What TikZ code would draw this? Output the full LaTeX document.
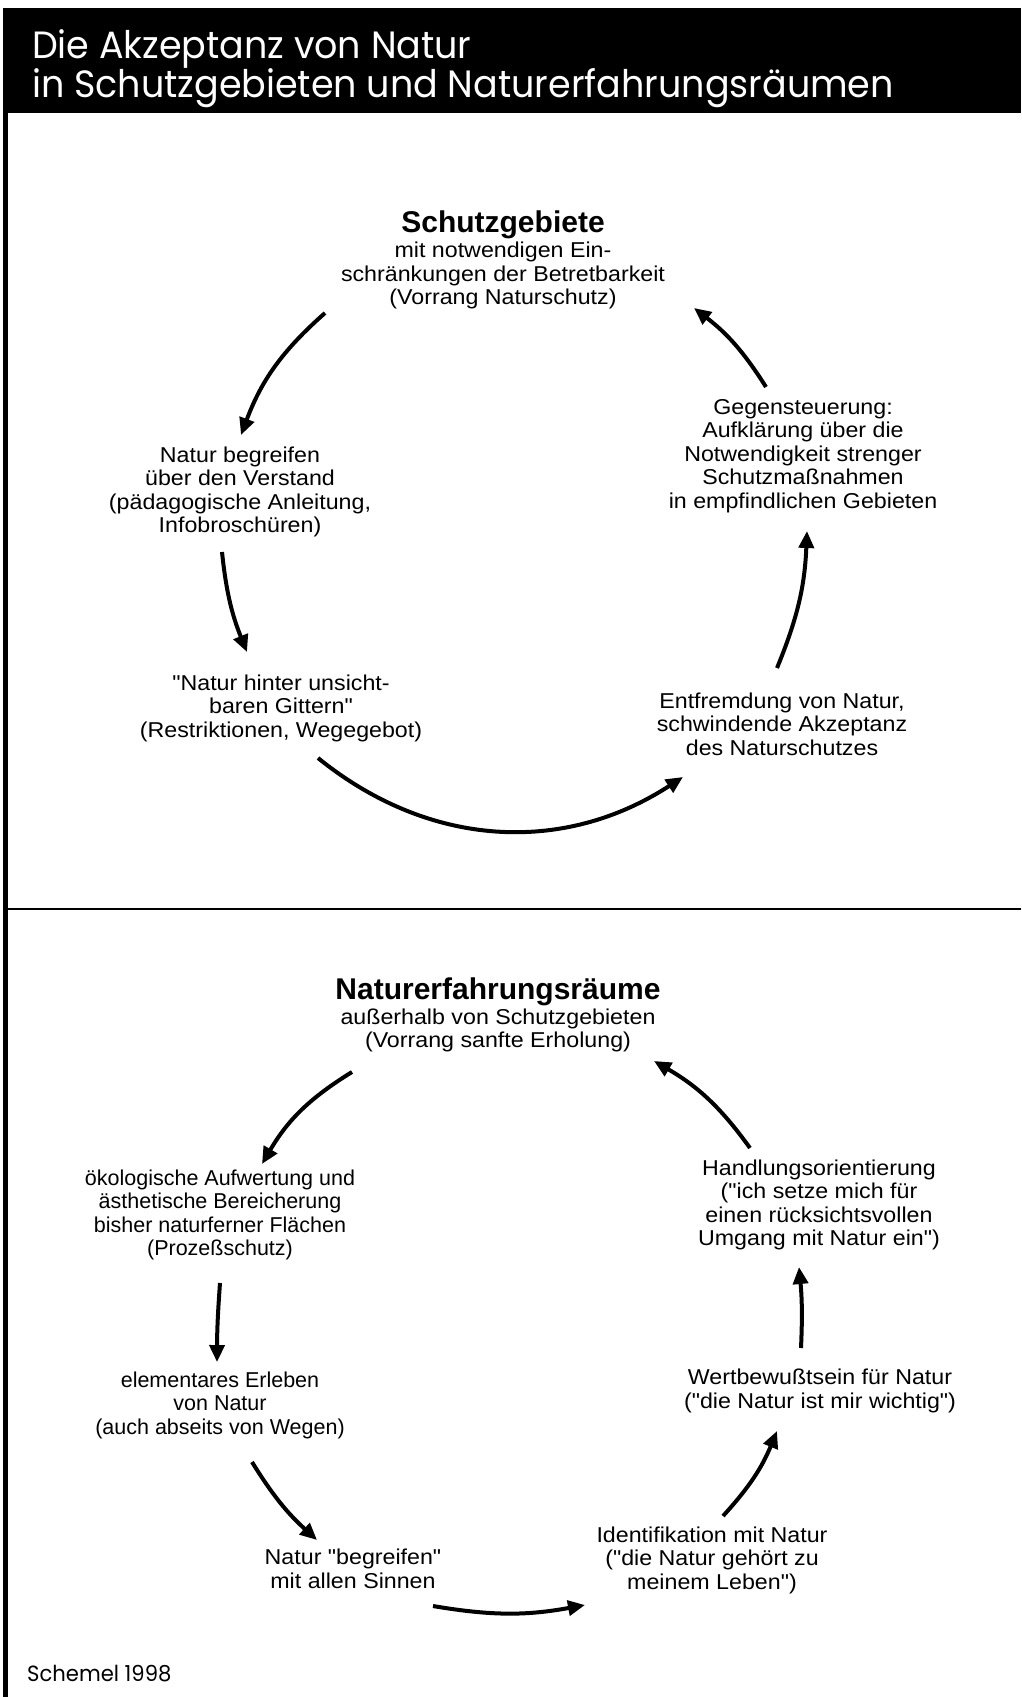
\documentclass[tikz,border=0pt]{standalone}
\usepackage{fontspec}
\setmainfont{Liberation Sans}[Ligatures=TeXOff,FakeStretch=1.08]
\newfontfamily\plainfont{Liberation Sans}[Ligatures=TeXOff]
\newfontfamily\titlefont{Poppins}[FakeStretch=0.96]
\usetikzlibrary{arrows.meta}
\newcommand\headfont{\plainfont\bfseries\fontsize{30}{30}\selectfont}
\begin{document}
\begin{tikzpicture}[x=1pt,y=-1pt,
  txt/.style={align=center,inner sep=0pt,font=\fontsize{21.5}{23.5}\selectfont},
  narrowtxt/.style={txt,font=\plainfont\fontsize{21.5}{23.5}\selectfont},
  arr/.style={line width=4pt,-{Triangle[length=17pt,width=15pt]}}]
\useasboundingbox (0,0) rectangle (1021,1697);
\fill[white] (0,0) rectangle (1021,1697);
\fill[black] (3,8) rectangle (1021,113);
\draw[line width=5pt] (5.5,8) -- (5.5,1697);
\draw[line width=2pt] (5,909) -- (1021,909);
\node[anchor=west,text=white,align=left,inner sep=0pt,
  font=\titlefont\fontsize{38}{39}\selectfont] (title) at (32,69)
  {Die Akzeptanz von Natur\\in Schutzgebieten und Naturerfahrungsräumen};
\node[anchor=west,inner sep=0pt,font=\titlefont\fontsize{22}{22}\selectfont] (credit) at (27,1674) {Schemel 1998};
% top cycle
\node[txt] (A) at (503,260) {{\headfont Schutzgebiete}\\[1.5pt]mit notwendigen Ein-\\schränkungen der Betretbarkeit\\(Vorrang Naturschutz)};
\node[txt] (B) at (240,492) {Natur begreifen\\über den Verstand\\(pädagogische Anleitung,\\Infobroschüren)};
\node[txt] (C) at (803,456) {Gegensteuerung:\\Aufklärung über die\\Notwendigkeit strenger\\Schutzmaßnahmen\\in empfindlichen Gebieten};
\node[txt] (D) at (281,708) {"Natur hinter unsicht-\\baren Gittern"\\(Restriktionen, Wegegebot)};
\node[txt] (E) at (782,724) {Entfremdung von Natur,\\schwindende Akzeptanz\\des Naturschutzes};
\draw[arr] ([shift={(-178,53)}]A.center) to[bend right=14] ([shift={(1,-57)}]B.center);
\draw[arr] ([shift={(-18,60)}]B.center) to[bend right=8] ([shift={(-34,-56)}]D.center);
\draw[arr] ([shift={(37,50)}]D.center) to[bend right=36] ([shift={(-99,53)}]E.center);
\draw[arr] ([shift={(-5,-56)}]E.center) to[bend right=10] ([shift={(4,75)}]C.center);
\draw[arr] ([shift={(-37,-69)}]C.center) to[bend right=10] ([shift={(191,48)}]A.center);
% bottom cycle
\node[txt] (F) at (498,1015) {{\headfont Naturerfahrungsräume}\\[1.5pt]außerhalb von Schutzgebieten\\(Vorrang sanfte Erholung)};
\node[narrowtxt] (G) at (220,1215) {ökologische Aufwertung und\\ästhetische Bereicherung\\bisher naturferner Flächen\\(Prozeßschutz)};
\node[narrowtxt] (H) at (220,1405) {elementares Erleben\\von Natur\\(auch abseits von Wegen)};
\node[txt] (I) at (353,1569) {Natur "begreifen"\\mit allen Sinnen};
\node[txt] (J) at (712,1560) {Identifikation mit Natur\\("die Natur gehört zu\\meinem Leben")};
\node[txt] (K) at (820,1391) {Wertbewußtsein für Natur\\("die Natur ist mir wichtig")};
\node[txt] (L) at (819,1205) {Handlungsorientierung\\("ich setze mich für\\einen rücksichtsvollen\\Umgang mit Natur ein")};
\draw[arr] ([shift={(-146,57)}]F.center) to[bend right=14] ([shift={(42,-51)}]G.center);
\draw[arr] ([shift={(0,68)}]G.center) to[bend right=2] ([shift={(-3,-43)}]H.center);
\draw[arr] ([shift={(32,57)}]H.center) to[bend right=8] ([shift={(-36,-29)}]I.center);
\draw[arr] ([shift={(80,37)}]I.center) to[bend right=10] ([shift={(-127,45)}]J.center);
\draw[arr] ([shift={(11,-44)}]J.center) to[bend right=10] ([shift={(-43,40)}]K.center);
\draw[arr] ([shift={(-19,-43)}]K.center) to[bend right=4] ([shift={(-20,62)}]L.center);
\draw[arr] ([shift={(-69,-57)}]L.center) to[bend right=12] ([shift={(156,46)}]F.center);
\end{tikzpicture}
\end{document}
